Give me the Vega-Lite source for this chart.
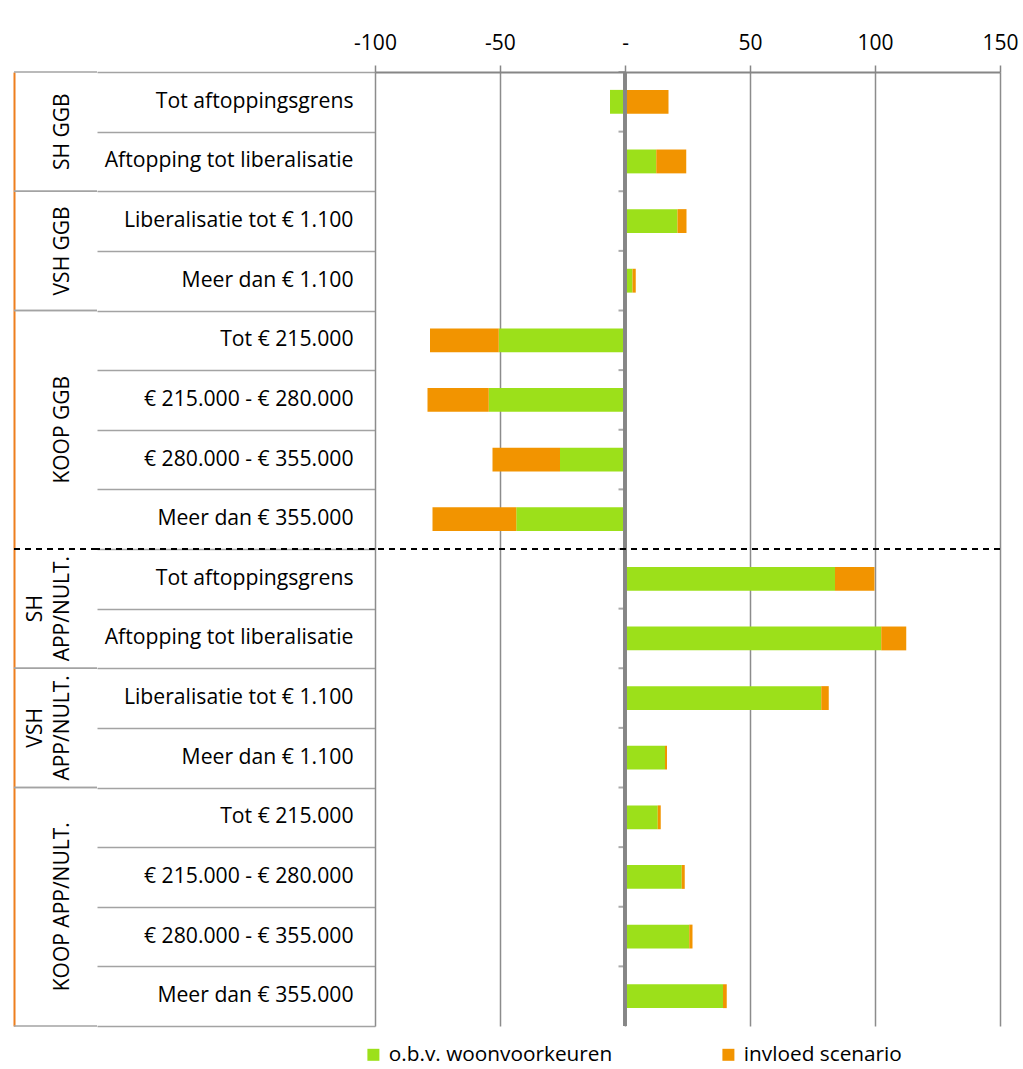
{
  "$schema": "https://vega.github.io/schema/vega-lite/v6.json",
  "background": "white",
  "padding": {"left": 13, "top": 32, "right": 10, "bottom": 5},
  "config": {
    "font": "Open Sans",
    "view": {"stroke": "transparent", "strokeWidth": 0},
    "text": {"color": "#000000"},
    "axis": {"labelFont": "Open Sans", "labelColor": "#000000", "titleFont": "Open Sans", "domain": false},
    "legend": {"labelFont": "Open Sans", "labelColor": "#000000"}
  },
  "datasets": {
    "rijen": [
      {"groep": "SH GGB", "item": "Tot aftoppingsgrens", "id": "SH GGB|Tot aftoppingsgrens", "woonvoorkeuren": -6, "scenario": 17.4},
      {"groep": "SH GGB", "item": "Aftopping tot liberalisatie", "id": "SH GGB|Aftopping tot liberalisatie", "woonvoorkeuren": 12.5, "scenario": 12},
      {"groep": "VSH GGB", "item": "Liberalisatie tot € 1.100", "id": "VSH GGB|Liberalisatie tot € 1.100", "woonvoorkeuren": 21, "scenario": 3.6},
      {"groep": "VSH GGB", "item": "Meer dan € 1.100", "id": "VSH GGB|Meer dan € 1.100", "woonvoorkeuren": 3, "scenario": 1.3},
      {"groep": "KOOP GGB", "item": "Tot € 215.000", "id": "KOOP GGB|Tot € 215.000", "woonvoorkeuren": -50.5, "scenario": -27.5},
      {"groep": "KOOP GGB", "item": "€ 215.000 - € 280.000", "id": "KOOP GGB|€ 215.000 - € 280.000", "woonvoorkeuren": -54.5, "scenario": -24.5},
      {"groep": "KOOP GGB", "item": "€ 280.000 - € 355.000", "id": "KOOP GGB|€ 280.000 - € 355.000", "woonvoorkeuren": -26, "scenario": -27},
      {"groep": "KOOP GGB", "item": "Meer dan € 355.000", "id": "KOOP GGB|Meer dan € 355.000", "woonvoorkeuren": -43.5, "scenario": -33.5},
      {"groep": "SH\nAPP/NULT.", "item": "Tot aftoppingsgrens", "id": "SH APP/NULT.|Tot aftoppingsgrens", "woonvoorkeuren": 84, "scenario": 15.8},
      {"groep": "SH\nAPP/NULT.", "item": "Aftopping tot liberalisatie", "id": "SH APP/NULT.|Aftopping tot liberalisatie", "woonvoorkeuren": 102.5, "scenario": 10},
      {"groep": "VSH\nAPP/NULT.", "item": "Liberalisatie tot € 1.100", "id": "VSH APP/NULT.|Liberalisatie tot € 1.100", "woonvoorkeuren": 78.5, "scenario": 3},
      {"groep": "VSH\nAPP/NULT.", "item": "Meer dan € 1.100", "id": "VSH APP/NULT.|Meer dan € 1.100", "woonvoorkeuren": 16, "scenario": 0.8},
      {"groep": "KOOP APP/NULT.", "item": "Tot € 215.000", "id": "KOOP APP/NULT.|Tot € 215.000", "woonvoorkeuren": 13.1, "scenario": 1.2},
      {"groep": "KOOP APP/NULT.", "item": "€ 215.000 - € 280.000", "id": "KOOP APP/NULT.|€ 215.000 - € 280.000", "woonvoorkeuren": 22.7, "scenario": 1.2},
      {"groep": "KOOP APP/NULT.", "item": "€ 280.000 - € 355.000", "id": "KOOP APP/NULT.|€ 280.000 - € 355.000", "woonvoorkeuren": 25.7, "scenario": 1.3},
      {"groep": "KOOP APP/NULT.", "item": "Meer dan € 355.000", "id": "KOOP APP/NULT.|Meer dan € 355.000", "woonvoorkeuren": 39.2, "scenario": 1.5}
    ]
  },
  "spacing": 0,
  "bounds": "flush",
  "hconcat": [
    {
      "width": 83,
      "height": 954,
      "data": {"name": "rijen"},
      "transform": [
        {"window": [{"op": "row_number", "as": "rn"}, {"op": "count", "as": "n"}], "groupby": ["groep"], "frame": [null, null]}
      ],
      "layer": [
        {
          "mark": {"type": "rule", "color": "#A3A3A3", "strokeWidth": 1.5},
          "encoding": {
            "y": {"field": "id", "type": "nominal", "sort": null, "bandPosition": 0,
                  "scale": {"paddingInner": 0, "paddingOuter": 0},
                  "axis": {"labels": false, "ticks": false, "grid": false, "title": null, "domain": true, "domainColor": "#EE7F1E", "domainWidth": 2}},
            "strokeOpacity": {"condition": {"test": "datum.rn == 1 && datum.groep != 'SH\\nAPP/NULT.'", "value": 1}, "value": 0}
          }
        },
        {
          "mark": {"type": "rule", "color": "#A3A3A3", "strokeWidth": 1.5},
          "encoding": {
            "y": {"field": "id", "type": "nominal", "sort": null, "bandPosition": 1},
            "strokeOpacity": {"condition": {"test": "datum.rn == datum.n && datum.groep != 'KOOP GGB'", "value": 1}, "value": 0}
          }
        },
        {
          "mark": {"type": "rule", "color": "#000000", "strokeWidth": 1.8, "strokeDash": [6, 5]},
          "encoding": {
            "y": {"field": "id", "type": "nominal", "sort": null, "bandPosition": 0},
            "strokeOpacity": {"condition": {"test": "datum.rn == 1 && datum.groep == 'SH\\nAPP/NULT.'", "value": 1}, "value": 0}
          }
        },
        {
          "mark": {"type": "text", "angle": 270, "align": "center", "baseline": "bottom", "dy": 17, "fontSize": 21},
          "encoding": {
            "y": {"field": "id", "type": "nominal", "sort": null, "bandPosition": 0},
            "text": {"condition": {"test": "datum.rn == datum.n / 2 + 1 && indexof(datum.groep, '\\n') < 0", "field": "groep"}, "value": ""}
          }
        },
        {
          "mark": {"type": "text", "angle": 270, "align": "center", "baseline": "bottom", "dy": -10, "fontSize": 21, "lineBreak": "\n", "lineHeight": 27},
          "encoding": {
            "y": {"field": "id", "type": "nominal", "sort": null, "bandPosition": 0},
            "text": {"condition": {"test": "datum.rn == datum.n / 2 + 1 && indexof(datum.groep, '\\n') >= 0", "field": "groep"}, "value": ""}
          }
        }
      ]
    },
    {
      "width": 278,
      "height": 954,
      "data": {"name": "rijen"},
      "transform": [{"window": [{"op": "row_number", "as": "nr"}]}],
      "mark": {"type": "rule", "color": "#000000", "strokeWidth": 1.8, "strokeDash": [6, 5]},
      "encoding": {
        "y": {"field": "id", "type": "nominal", "sort": null, "bandPosition": 0,
              "scale": {"paddingInner": 0, "paddingOuter": 0},
              "axis": {"grid": true, "tickBand": "extent", "gridColor": "#A3A3A3", "gridWidth": 1.5, "labels": false, "ticks": false, "domain": false, "title": null}},
        "strokeOpacity": {"condition": {"test": "datum.nr == 9", "value": 1}, "value": 0}
      }
    },
    {
      "width": 625,
      "height": 954,
      "data": {"name": "rijen"},
      "layer": [
        {
          "transform": [{"fold": ["woonvoorkeuren", "scenario"], "as": ["reeks", "waarde"]}],
          "mark": {"type": "bar", "height": {"band": 0.4}},
          "encoding": {
            "y": {"field": "id", "type": "nominal", "sort": null,
                  "scale": {"paddingInner": 0, "paddingOuter": 0},
                  "axis": {"title": null, "ticks": false, "domain": false, "grid": false, "labelFontSize": 21.2, "labelPadding": 22, "labelLimit": 400,
                           "labelExpr": "split(datum.label, '|')[1]"}},
            "x": {"field": "waarde", "type": "quantitative", "stack": "zero",
                  "scale": {"domain": [-100, 150], "nice": false, "zero": false},
                  "axis": {"orient": "top", "title": null, "values": [-100, -50, 0, 50, 100, 150],
                           "labelExpr": "datum.value == 0 ? '-' : '' + datum.value", "labelFlush": false,
                           "labelFontSize": 21, "labelPadding": 12, "tickSize": 7, "tickColor": "#868686", "tickWidth": 1.5,
                           "domain": true, "domainColor": "#868686", "domainWidth": 2, "grid": true, "gridColor": "#8C8C8C", "gridWidth": 1.5}},
            "color": {"field": "reeks", "type": "nominal",
                      "scale": {"domain": ["woonvoorkeuren", "scenario"], "range": ["#9CE01A", "#F29400"]},
                      "legend": {"orient": "none", "legendX": 349, "legendY": 972, "direction": "horizontal", "title": null,
                                 "symbolType": "square", "symbolSize": 144, "symbolStrokeWidth": 0, "labelFontSize": 20.8,
                                 "labelOffset": 5, "columnPadding": 105, "labelLimit": 400,
                                 "labelExpr": "datum.label == 'woonvoorkeuren' ? 'o.b.v. woonvoorkeuren' : 'invloed scenario'"}},
            "order": {"field": "reeks", "sort": "descending"}
          }
        },
        {
          "mark": {"type": "rule", "color": "#868686", "strokeWidth": 2.5},
          "encoding": {"x": {"datum": 0}}
        },
        {
          "mark": {"type": "tick", "orient": "horizontal", "size": 7, "thickness": 2, "color": "#868686", "xOffset": -3},
          "encoding": {
            "x": {"datum": 0},
            "y": {"field": "id", "type": "nominal", "sort": null, "bandPosition": 0}
          }
        },
        {
          "transform": [{"window": [{"op": "row_number", "as": "nr"}]}],
          "mark": {"type": "rule", "color": "#000000", "strokeWidth": 1.8, "strokeDash": [6, 5]},
          "encoding": {
            "y": {"field": "id", "type": "nominal", "sort": null, "bandPosition": 0},
            "strokeOpacity": {"condition": {"test": "datum.nr == 9", "value": 1}, "value": 0}
          }
        }
      ]
    }
  ]
}
